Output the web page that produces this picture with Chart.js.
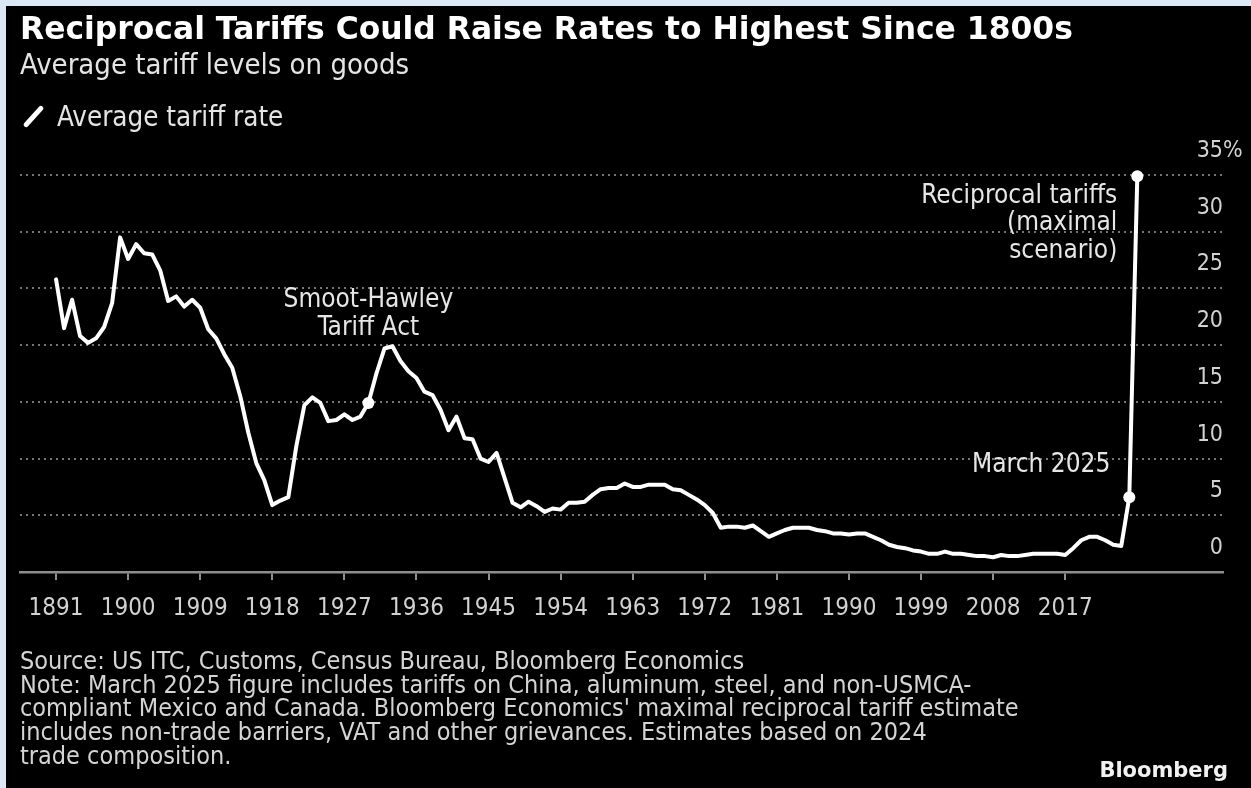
<!DOCTYPE html>
<html>
<head>
<meta charset="utf-8">
<title>Reciprocal Tariffs</title>
<script src="https://cdn.jsdelivr.net/npm/chart.js@4.4.1/dist/chart.umd.min.js"></script>
<style>
  html, body { margin: 0; padding: 0; }
  body {
    width: 1251px; height: 788px; position: relative; overflow: hidden;
    background: #dce8f5;
    font-family: 'DejaVu Sans Condensed', 'DejaVu Sans', sans-serif;
  }
  #frame { position: absolute; left: 6px; top: 6px; right: 0; bottom: 0; background: #000; }
  #chart { position: absolute; left: 0; top: 0; }
  .txt { position: absolute; white-space: nowrap; }
  #title { left: 20px; top: 10px; font: bold 31.4px/36px 'DejaVu Sans', sans-serif; color: #fff; }
  #subtitle { left: 20px; top: 47px; font-size: 29px; line-height: 34px; color: #e4e4e4; }
  #legend { left: 57px; top: 99px; font-size: 27.5px; line-height: 34px; color: #e4e4e4; }
  #slash { position: absolute; left: 31px; top: 103px; width: 5px; height: 27px; background: #fff;
           border-radius: 2.5px; transform: rotate(42deg); }
  #footer { left: 20px; top: 649px; font-size: 25px; line-height: 23.7px; color: #d4d4d4; }
  #brand { right: 23px; top: 758px; font: bold 21px/24px 'DejaVu Sans', sans-serif; color: #f2f2f2; }
</style>
</head>
<body>
<div id="frame"></div>
<canvas id="chart" width="1251" height="788"></canvas>
<div class="txt" id="title">Reciprocal Tariffs Could Raise Rates to Highest Since 1800s</div>
<div class="txt" id="subtitle">Average tariff levels on goods</div>
<div id="slash"></div>
<div class="txt" id="legend">Average tariff rate</div>
<div class="txt" id="footer">Source: US ITC, Customs, Census Bureau, Bloomberg Economics<br>Note: March 2025 figure includes tariffs on China, aluminum, steel, and non-USMCA-<br>compliant Mexico and Canada. Bloomberg Economics' maximal reciprocal tariff estimate<br>includes non-trade barriers, VAT and other grievances. Estimates based on 2024<br>trade composition.</div>
<div class="txt" id="brand">Bloomberg</div>

<script>
  // Average tariff rate (%), one value per year starting 1891 and ending 2024.
  var firstYear = 1891;
  var rates = [
    25.8, 21.5, 24.0, 20.8, 20.2, 20.6, 21.6, 23.7, 29.5,             // 1891-1899
    27.6, 28.9, 28.1, 28.0, 26.6, 23.9, 24.3, 23.4, 24.0, 23.3,       // 1900-1909
    21.4, 20.6, 19.2, 18.0, 15.5, 12.3, 9.6, 8.1, 5.9, 6.3,           // 1910-1919
    6.6, 11.1, 14.7, 15.4, 14.9, 13.3, 13.4, 13.9, 13.4, 13.7,        // 1920-1929
    14.9, 17.5, 19.7, 19.9, 18.6, 17.7, 17.1, 15.9, 15.6, 14.3,       // 1930-1939
    12.5, 13.7, 11.8, 11.7, 10.0, 9.7, 10.5, 8.3, 6.1, 5.7,           // 1940-1949
    6.2, 5.8, 5.3, 5.6, 5.5, 6.1, 6.1, 6.2, 6.8, 7.3,                 // 1950-1959
    7.4, 7.4, 7.8, 7.5, 7.5, 7.7, 7.7, 7.7, 7.3, 7.2,                 // 1960-1969
    6.8, 6.4, 5.9, 5.2, 3.9, 4.0, 4.0, 3.9, 4.1, 3.6,                 // 1970-1979
    3.1, 3.4, 3.7, 3.9, 3.9, 3.9, 3.7, 3.6, 3.4, 3.4,                 // 1980-1989
    3.3, 3.4, 3.4, 3.1, 2.8, 2.4, 2.2, 2.1, 1.9, 1.8,                 // 1990-1999
    1.6, 1.6, 1.8, 1.6, 1.6, 1.5, 1.4, 1.4, 1.3, 1.5,                 // 2000-2009
    1.4, 1.4, 1.5, 1.6, 1.6, 1.6, 1.6, 1.5, 2.1, 2.8,                 // 2010-2019
    3.1, 3.1, 2.8, 2.4, 2.3                                           // 2020-2024
  ];
  var years = rates.map(function (r, i) { return firstYear + i; });

  // March 2025 figure and the maximal reciprocal-tariff scenario.
  var scenarioYears = [2025, 2026];
  var scenarioRates = [6.6, 34.9];

  // Axis ticks.
  var xTickYears = [1891, 1900, 1909, 1918, 1927, 1936, 1945, 1954, 1963, 1972, 1981, 1990, 1999, 2008, 2017];
  var yTickValues = [0, 5, 10, 15, 20, 25, 30, 35];

  // Marked points and their labels.
  var markedYears = [1930, 2025, 2026];
  var notes = [
    { lines: ['Smoot-Hawley', 'Tariff Act'], year: 1930, align: 'center', dx: 0, dy: -103, gap: 28 },
    { lines: ['March 2025'], year: 2025, align: 'right', dx: -19, dy: -32, gap: 0 },
    { lines: ['Reciprocal tariffs', '(maximal', 'scenario)'], year: 2026, align: 'right', dx: -20, dy: 20, gap: 27.5 }
  ];

  var allYears = years.concat(scenarioYears);
  var allRates = rates.concat(scenarioRates);
  var points = allYears.map(function (y, i) { return { x: y, y: allRates[i] }; });

  var BODY_FONT = "'DejaVu Sans Condensed', 'DejaVu Sans', sans-serif";
  var GRID = '#767676';
  var AXIS = '#8e8e8e';
  var LABEL = '#d2d2d2';

  var notesPlugin = {
    id: 'notes',
    afterDatasetsDraw: function (chart) {
      var ctx = chart.ctx;
      var meta = chart.getDatasetMeta(0);
      ctx.save();
      ctx.font = '26px ' + BODY_FONT;
      ctx.fillStyle = '#e6e6e6';
      ctx.textBaseline = 'middle';
      notes.forEach(function (n) {
        var pt = meta.data[allYears.indexOf(n.year)];
        ctx.textAlign = n.align;
        n.lines.forEach(function (line, i) {
          ctx.fillText(line, pt.x + n.dx, pt.y + n.dy + i * n.gap);
        });
      });
      // Percent sign hanging after the top y label.
      var yScale = chart.scales.y;
      ctx.font = '23px ' + BODY_FONT;
      ctx.fillStyle = LABEL;
      ctx.textAlign = 'left';
      ctx.fillText('%', chart.chartArea.right, yScale.getPixelForValue(yTickValues[yTickValues.length - 1]) - 24);
      ctx.restore();
    }
  };

  var ctx = document.getElementById('chart').getContext('2d');
  var chart = new Chart(ctx, {
    type: 'line',
    data: {
      datasets: [{
        data: points,
        borderColor: '#ffffff',
        borderWidth: 4,
        borderJoinStyle: 'round',
        borderCapStyle: 'round',
        tension: 0,
        clip: false,
        pointBackgroundColor: '#ffffff',
        pointBorderWidth: 0,
        pointRadius: function (c) {
          return markedYears.indexOf(allYears[c.dataIndex]) >= 0 ? 6 : 0;
        },
        pointHoverRadius: 0
      }]
    },
    options: {
      responsive: false,
      animation: false,
      events: [],
      layout: { padding: { left: 20, right: 28, top: 175, bottom: 166 } },
      plugins: { legend: { display: false }, tooltip: { enabled: false } },
      scales: {
        x: {
          type: 'linear',
          min: 1886.5,
          max: 2036.7,
          afterBuildTicks: function (axis) {
            axis.ticks = xTickYears.map(function (v) { return { value: v }; });
          },
          afterFit: function (axis) { axis.height = 50; },
          grid: { drawOnChartArea: false, drawTicks: true, tickLength: 8, color: AXIS, lineWidth: 2 },
          border: { display: true, color: AXIS, width: 2.5 },
          ticks: {
            autoSkip: false, maxRotation: 0, padding: 14, color: LABEL,
            font: { family: BODY_FONT, size: 24 },
            callback: function (v) { return String(v); }
          }
        },
        y: {
          position: 'right',
          min: 0,
          max: 35,
          afterBuildTicks: function (axis) {
            axis.ticks = yTickValues.map(function (v) { return { value: v }; });
          },
          afterFit: function (axis) { axis.width = 0; },
          grid: {
            drawTicks: false, lineWidth: 2,
            color: function (c) { return c.tick && c.tick.value === 0 ? 'rgba(0,0,0,0)' : GRID; }
          },
          border: { display: false, dash: [2, 4] },
          ticks: {
            mirror: true, padding: 0, labelOffset: -24, color: LABEL,
            font: { family: BODY_FONT, size: 23 },
            callback: function (v) { return String(v); }
          }
        }
      }
    },
    plugins: [notesPlugin]
  });
</script>
</body>
</html>
